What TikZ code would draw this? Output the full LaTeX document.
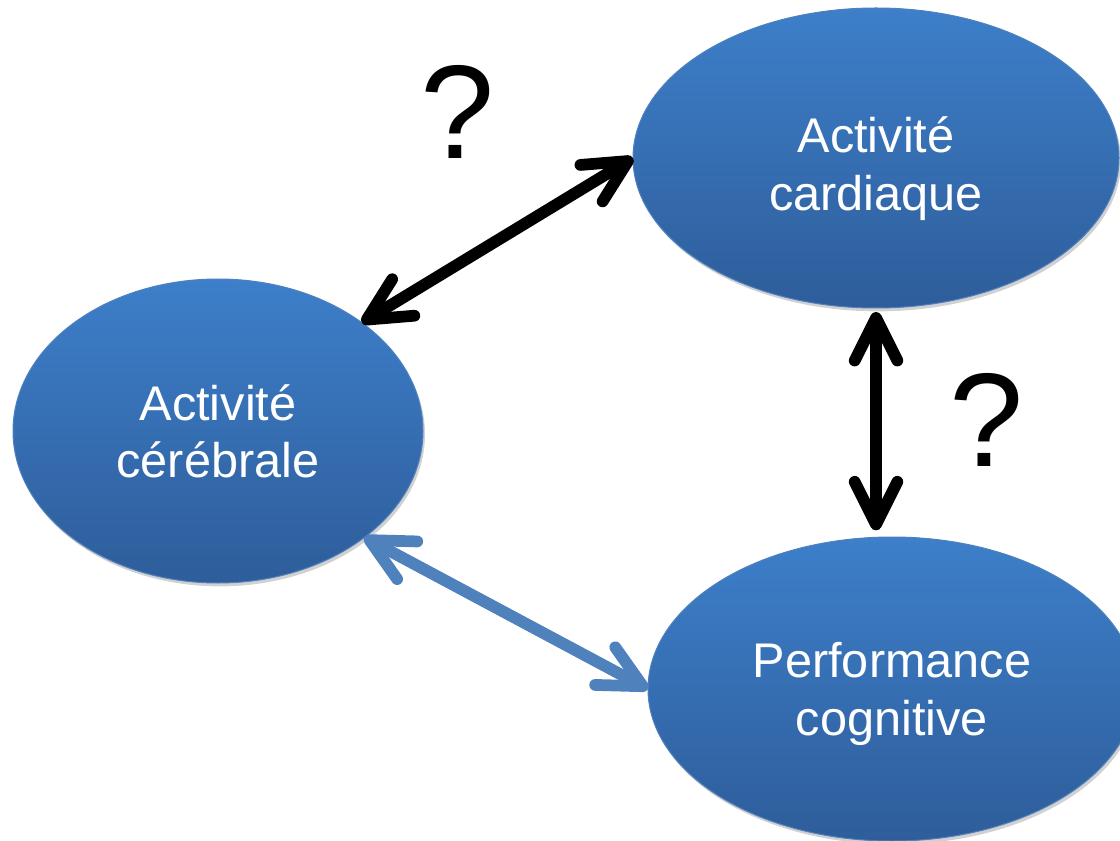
\documentclass[tikz,border=0pt]{standalone}
\usepackage{fontspec}
\setmainfont{Liberation Sans}
\usetikzlibrary{arrows.meta,shapes.geometric,shadows}
\definecolor{ellborder}{RGB}{79,129,189}
\definecolor{elltop}{RGB}{61,127,202}
\definecolor{ellbot}{RGB}{46,93,154}
\definecolor{bluearrow}{RGB}{79,129,189}
\begin{document}
\begin{tikzpicture}[x=0.75pt,y=-0.75pt,
  bubble/.style={ellipse, draw=ellborder, line width=0.75pt, top color=elltop, bottom color=ellbot,
    inner sep=0pt, outer sep=0pt, text=white, align=center,
    font=\fontsize{36.5}{43}\selectfont,
    drop shadow={shadow xshift=1.5pt, shadow yshift=-2.5pt, opacity=0.18, fill=black}},
  link/.style={line width=8.8pt, >={Straight Barb[length=32pt,width=32pt,round]}, <->},
  qmark/.style={inner sep=0pt, font=\fontsize{100}{100}\selectfont}]
\useasboundingbox (0,0) rectangle (1120,841);
\clip (0,0) rectangle (1120,841);
\node[bubble, minimum width=307.5pt, minimum height=228pt] (cer) at (218,431) {Activité\\cérébrale};
\node[bubble, minimum width=364.5pt, minimum height=225pt] (card) at (876,158) {\rule{0pt}{43pt}Activité\\cardiaque};
\node[bubble, minimum width=366pt, minimum height=228pt] (perf) at (892,689) {\rule{0pt}{34pt}Performance\\cognitive};
\draw[link] (cer.37) -- (card.west);
\draw[link, draw=bluearrow] (cer.-36.4) -- (perf.west);
\draw[link, shorten <=3pt, shorten >=5pt] (card.south) -- (card.south |- perf.north);
\node[qmark] (q1) at (458,112) {?};
\node[qmark] (q2) at (987,420) {?};
\end{tikzpicture}
\end{document}
